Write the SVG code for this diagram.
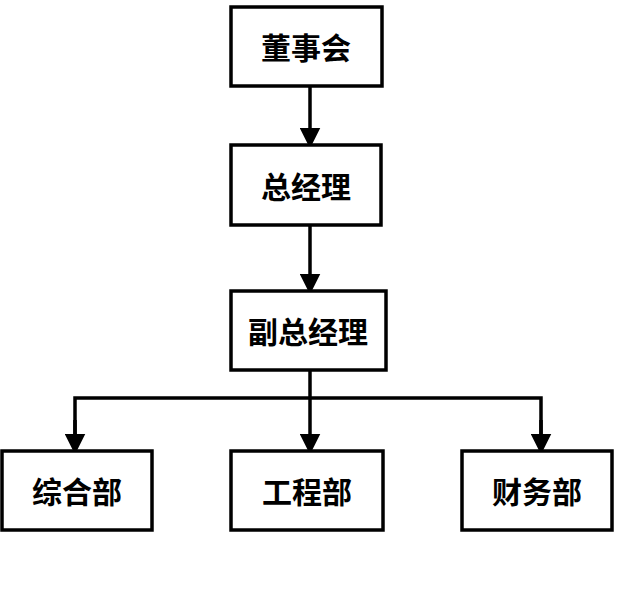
<svg xmlns="http://www.w3.org/2000/svg" width="623" height="593" viewBox="0 0 623 593">
<style>
.b{fill:#fff;stroke:#000;stroke-width:3.5}
.t{font-family:"Noto Sans CJK SC",sans-serif;font-size:30px;font-weight:bold;text-anchor:middle;dominant-baseline:central}
.c{stroke:#000;stroke-width:3.5;fill:none}
</style>
<defs><marker id="a" markerWidth="6" markerHeight="6" refX="5" refY="3" orient="auto" markerUnits="strokeWidth"><path d="M0,0L6,3L0,6z" fill="#000"/></marker></defs>
<rect width="623" height="593" fill="#fff"/>
<g id="connectors">
<path class="c" d="M310,86V145" marker-end="url(#a)"/>
<path class="c" d="M310,225V291" marker-end="url(#a)"/>
<path class="c" d="M310,370V451" marker-end="url(#a)"/>
<path class="c" d="M75,451V398H541V451"/>
<path class="c" d="M75,420V451" marker-end="url(#a)"/>
<path class="c" d="M541,420V451" marker-end="url(#a)"/>
</g>
<g id="n1"><rect class="b" x="231" y="7" width="151" height="79"/><text class="t" x="306" y="46">董事会</text></g>
<g id="n2"><rect class="b" x="231" y="145" width="150" height="80"/><text class="t" x="306" y="185">总经理</text></g>
<g id="n3"><rect class="b" x="231" y="291" width="155" height="79"/><text class="t" x="308" y="330">副总经理</text></g>
<g id="n4"><rect class="b" x="2" y="451" width="150" height="79"/><text class="t" x="77" y="490">综合部</text></g>
<g id="n5"><rect class="b" x="231" y="451" width="152" height="79"/><text class="t" x="307" y="490">工程部</text></g>
<g id="n6"><rect class="b" x="462" y="451" width="150" height="79"/><text class="t" x="537" y="490">财务部</text></g>
</svg>
